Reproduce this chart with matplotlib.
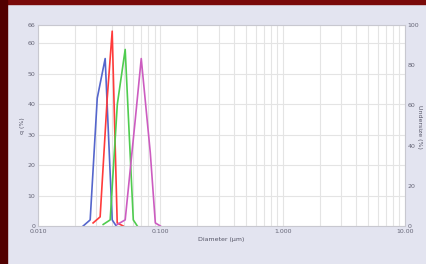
import numpy as np
import matplotlib.pyplot as plt
from matplotlib.patches import Rectangle
from matplotlib.ticker import FixedLocator, LogLocator, NullFormatter

# particle size distributions, diameter in um, q in %
blue_d = [0.0234, 0.0267, 0.0305, 0.0354, 0.0404, 0.0436]
blue_q = [0.0, 2.0, 42.0, 55.0, 2.0, 0.0]

red_d = [0.0282, 0.0322, 0.0368, 0.0404, 0.0444, 0.0497]
red_q = [1.0, 3.0, 42.0, 64.0, 1.0, 0.0]

green_d = [0.0341, 0.0389, 0.0445, 0.0516, 0.0601, 0.0648]
green_q = [0.5, 2.0, 40.0, 58.0, 2.0, 0.0]

magenta_d = [0.0444, 0.0516, 0.0624, 0.0698, 0.0828, 0.0910, 0.100]
magenta_q = [0.5, 2.0, 35.0, 55.0, 24.0, 1.0, 0.0]

x_ticks = [0.01, 0.1, 1.0, 10.0]
x_labels = ['0.010', '0.100', '1.000', '10.00']
q_ticks = [0, 10, 20, 30, 40, 50, 60, 66]
u_ticks = [0, 20, 40, 60, 80, 100]

fig = plt.figure(figsize=(4.27, 2.64), dpi=100)
fig.patch.set_facecolor('#e3e4f0')

# dark red frame at top and left
fig.patches.append(Rectangle((0, 0.985), 1, 0.015, transform=fig.transFigure,
                             color='#7a0a0a', zorder=0))
fig.patches.append(Rectangle((0, 0), 0.016, 1, transform=fig.transFigure,
                             color='#520000', zorder=0))

ax = fig.add_axes([0.089, 0.144, 0.8595, 0.761])
ax.set_facecolor('white')

ax.plot(blue_d, blue_q, color='#5566cc', lw=1.2)
ax.plot(red_d, red_q, color='#ff3b3b', lw=1.2)
ax.plot(green_d, green_q, color='#4fcc4f', lw=1.2)
ax.plot(magenta_d, magenta_q, color='#cc5cc0', lw=1.2)

ax.set_xscale('log')
ax.set_xlim(0.01, 10)
ax.set_ylim(0, 66)
ax.xaxis.set_major_locator(FixedLocator(x_ticks))
ax.set_xticklabels(x_labels)
ax.xaxis.set_minor_locator(LogLocator(base=10, subs=np.arange(2, 10)))
ax.xaxis.set_minor_formatter(NullFormatter())
ax.set_yticks(q_ticks)

ax.grid(True, which='both', axis='x', color='#e4e4e4', lw=0.8)
ax.grid(True, which='major', axis='y', color='#e4e4e4', lw=0.8)

for s in ax.spines.values():
    s.set_color('#c8c8d0')
    s.set_linewidth(0.8)
ax.tick_params(which='both', length=0, labelsize=4.5, colors='#666677', pad=2)

ax.set_xlabel('Diameter (\u00b5m)', fontsize=4.5, color='#555566', labelpad=2)
ax.set_ylabel('q (%)', fontsize=4.5, color='#555566', labelpad=2)

ax2 = ax.twinx()
ax2.set_ylim(0, 100)
ax2.set_yticks(u_ticks)
ax2.tick_params(length=0, labelsize=4.5, colors='#666677', pad=2)
for s in ax2.spines.values():
    s.set_visible(False)
fig.text(0.982, 0.52, 'Undersize (%)', fontsize=4.5, color='#555566',
         rotation=270, ha='center', va='center')

fig.savefig('out.png', dpi=100, facecolor=fig.get_facecolor())
